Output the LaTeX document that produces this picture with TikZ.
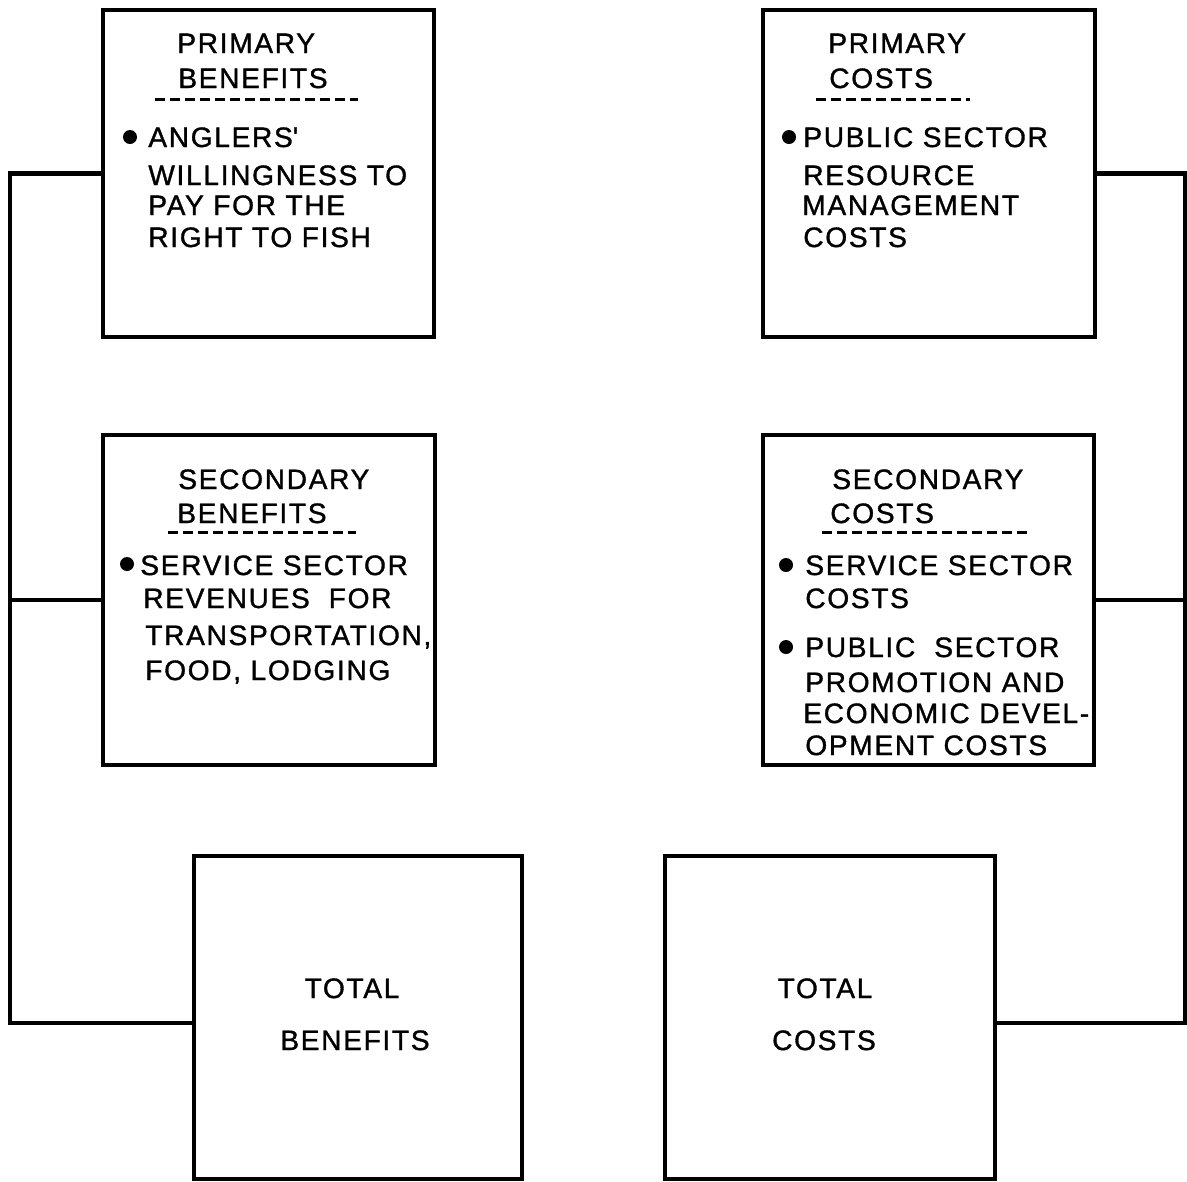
\documentclass[tikz,border=0pt]{standalone}
\usepackage{fontspec}
\setmainfont{Liberation Sans}[LetterSpace=6.0,FakeBold=1.2]
\newdimen\pxu \pxu=0.02cm
\begin{document}
\begin{tikzpicture}[x=0.02cm,y=-0.02cm,
  panel/.style={draw, rectangle, line width=4.5\pxu, inner sep=0pt},
  conn/.style={line width=4.5\pxu, line join=miter},
  hdash/.style={line width=3\pxu, dash pattern=on 10\pxu off 5\pxu},
  bulletdot/.style={circle, fill, draw=none, minimum size=14\pxu, inner sep=0pt},
  lbl/.style={anchor=base west, inner sep=0pt, font=\fontsize{16pt}{19pt}\selectfont},
  ctrlbl/.style={anchor=base, inner sep=0pt, font=\fontsize{16pt}{19pt}\selectfont}]
\useasboundingbox (0,0) rectangle (1187,1181);
% boxes
\node[panel, minimum width=331\pxu, minimum height=327\pxu] (pb) at (268.5,173.5) {};
\node[panel, minimum width=332\pxu, minimum height=327\pxu] (pc) at (929,173.5) {};
\node[panel, minimum width=332\pxu, minimum height=330\pxu] (sb) at (269,600) {};
\node[panel, minimum width=331\pxu, minimum height=330\pxu] (sc) at (928.5,600) {};
\node[panel, minimum width=328\pxu, minimum height=323\pxu] (tb) at (358,1017.5) {};
\node[panel, minimum width=330\pxu, minimum height=323\pxu] (tc) at (830,1017.5) {};
% connectors
\coordinate (L1) at (10,174);
\coordinate (L3) at (10,1023);
\coordinate (R1) at (1185,176);
\coordinate (R3) at (1185,1023);
\draw[conn] (pb.west) -- (pb.west -| L1) -- (L3) -- (L3 -| tb.west);
\draw[conn] (sb.west) -- (sb.west -| L1);
\draw[conn] (pc.east) -- (pc.east -| R1) -- (R3) -- (R3 -| tc.east);
\draw[conn] (sc.east) -- (sc.east -| R1);
% primary benefits
\node[lbl] (pb1) at (177,53) {PRIMARY};
\node[lbl] (pb2) at (178,88) {BENEFITS};
\coordinate (pbda) at (155,99); \coordinate (pbdb) at (358,99);
\draw[hdash] (pbda) -- (pbdb);
\node[bulletdot] (pbb) at (130,137) {};
\node[lbl] (pb3) at (148,147) {ANGLERS\textquotesingle};
\node[lbl] (pb4) at (148,185) {WILLINGNESS TO};
\node[lbl] (pb5) at (148,215) {PAY FOR THE};
\node[lbl] (pb6) at (148,247) {RIGHT TO FISH};
% primary costs
\node[lbl] (pc1) at (828,53) {PRIMARY};
\node[lbl] (pc2) at (829,88) {COSTS};
\coordinate (pcda) at (816,99); \coordinate (pcdb) at (970,99);
\draw[hdash] (pcda) -- (pcdb);
\node[bulletdot] (pcb) at (789,137) {};
\node[lbl] (pc3) at (803,147) {PUBLIC SECTOR};
\node[lbl] (pc4) at (803,185) {RESOURCE};
\node[lbl] (pc5) at (802,215) {MANAGEMENT};
\node[lbl] (pc6) at (803,247) {COSTS};
% secondary benefits
\node[lbl] (sb1) at (178,489) {SECONDARY};
\node[lbl] (sb2) at (177,523) {BENEFITS};
\coordinate (sbda) at (168,532); \coordinate (sbdb) at (356,532);
\draw[hdash] (sbda) -- (sbdb);
\node[bulletdot] (sbb) at (127,564) {};
\node[lbl] (sb3) at (140,575) {SERVICE SECTOR};
\node[lbl] (sb4) at (143,608) {REVENUES\ \ FOR};
\node[lbl] (sb5) at (145,645) {TRANSPORTATION,};
\node[lbl] (sb6) at (145,680) {FOOD, LODGING};
% secondary costs
\node[lbl] (sc1) at (832,489) {SECONDARY};
\node[lbl] (sc2) at (830,523) {COSTS};
\coordinate (scda) at (822,532); \coordinate (scdb) at (1027,532);
\draw[hdash] (scda) -- (scdb);
\node[bulletdot] (scb1) at (786,565) {};
\node[lbl] (sc3) at (805,575) {SERVICE SECTOR};
\node[lbl] (sc4) at (805,608) {COSTS};
\node[bulletdot] (scb2) at (786,647) {};
\node[lbl] (sc5) at (805,657) {PUBLIC\ \ SECTOR};
\node[lbl] (sc6) at (805,692) {PROMOTION AND};
\node[lbl] (sc7) at (803,723) {ECONOMIC DEVEL-};
\node[lbl] (sc8) at (805,755) {OPMENT COSTS};
% totals
\node[ctrlbl] (tb1) at (352,998) {TOTAL};
\node[ctrlbl] (tb2) at (355,1050) {BENEFITS};
\node[ctrlbl] (tc1) at (825,998) {TOTAL};
\node[ctrlbl] (tc2) at (824,1050) {COSTS};
\end{tikzpicture}
\end{document}
